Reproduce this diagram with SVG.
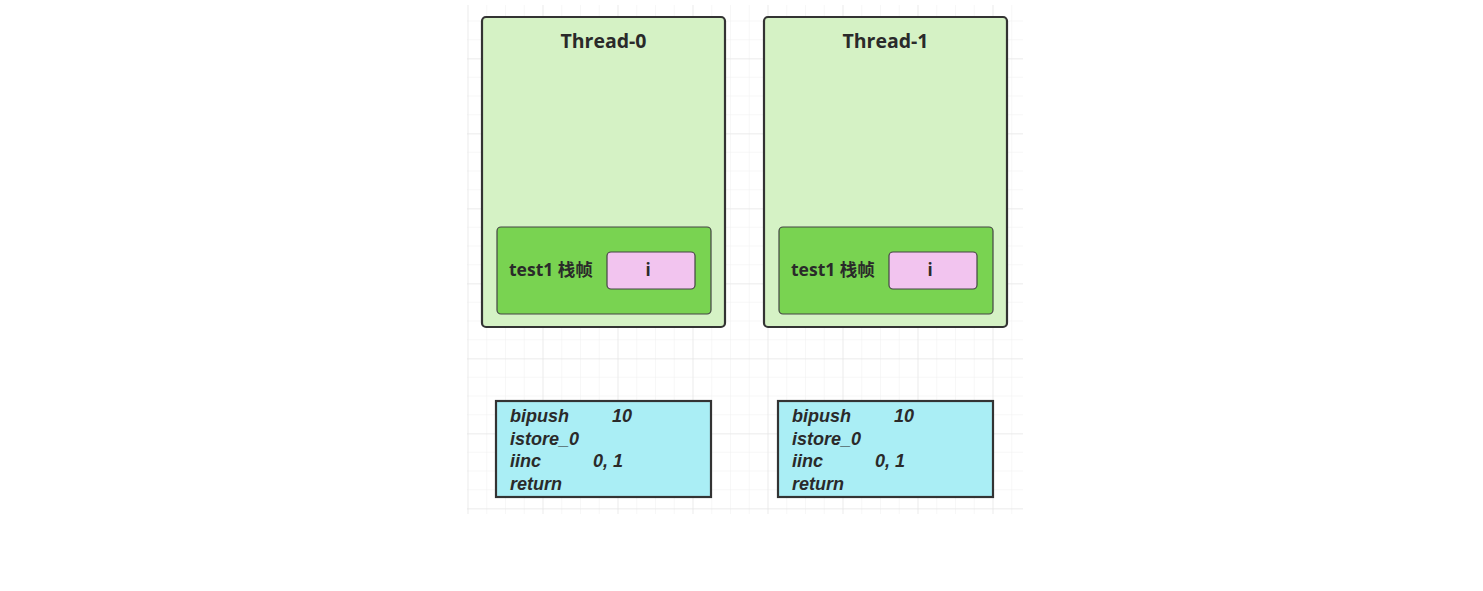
<svg xmlns="http://www.w3.org/2000/svg" width="1483" height="591" viewBox="0 0 1483 591">
  <defs>
    <pattern id="minor" x="467.5" y="1.75" width="18.75" height="18.75" patternUnits="userSpaceOnUse">
      <path d="M0 0H18.75M0 0V18.75" fill="none" stroke="#f0f0f0" stroke-width="1"/>
    </pattern>
    <pattern id="major" x="467.5" y="-16.5" width="75" height="75" patternUnits="userSpaceOnUse">
      <path d="M0 0H75M0 0V75" fill="none" stroke="#e2e2e2" stroke-width="1"/>
    </pattern>
  </defs>
  <style>
    .thread { fill: #d5f2c5; stroke: #333; stroke-width: 2.2; }
    .frame { fill: #79d351; stroke: #444; stroke-width: 1.2; }
    .slot { fill: #f2c4ef; stroke: #444; stroke-width: 1.2; }
    .code { fill: #aaeef5; stroke: #333; stroke-width: 2.2; }
    .title { font-family: "Open Sans", "Noto Sans", sans-serif; font-weight: bold; font-size: 19.5px; fill: #2a2a2a; text-anchor: middle; }
    .label { font-family: "Open Sans", "Noto Sans", "Noto Sans CJK SC", sans-serif; font-weight: bold; font-size: 17.5px; fill: #2a2a2a; }
    .var { font-family: "Open Sans", "Noto Sans", sans-serif; font-weight: bold; font-size: 17px; fill: #2a2a2a; text-anchor: middle; }
    .op { font-family: "Liberation Sans", Arial, sans-serif; font-weight: bold; font-style: italic; font-size: 18px; fill: #2a2a2a; }
  </style>
  <rect width="1483" height="591" fill="#ffffff"/>
  <!-- background grid -->
  <rect x="467" y="5" width="556" height="509" fill="url(#minor)"/>
  <rect x="467" y="5" width="556" height="509" fill="url(#major)"/>

  <g id="thread-0">
    <rect class="thread" x="482" y="17" width="243" height="310" rx="4"/>
    <text class="title" x="603.5" y="48">Thread-0</text>
  </g>
  <g id="frame-0">
    <rect class="frame" x="497" y="227" width="214" height="87" rx="4"/>
    <text class="label" x="509" y="276">test1 栈帧</text>
  </g>
  <g id="var-i-0">
    <rect class="slot" x="607" y="252" width="88" height="37" rx="4"/>
    <text class="var" x="648" y="276">i</text>
  </g>

  <g id="thread-1">
    <rect class="thread" x="764" y="17" width="243" height="310" rx="4"/>
    <text class="title" x="885.5" y="48">Thread-1</text>
  </g>
  <g id="frame-1">
    <rect class="frame" x="779" y="227" width="214" height="87" rx="4"/>
    <text class="label" x="791" y="276">test1 栈帧</text>
  </g>
  <g id="var-i-1">
    <rect class="slot" x="889" y="252" width="88" height="37" rx="4"/>
    <text class="var" x="930" y="276">i</text>
  </g>

  <g id="code-0">
    <rect class="code" x="496" y="401" width="215" height="96"/>
    <text class="op" x="510" y="422">bipush</text><text class="op" x="612" y="422">10</text>
    <text class="op" x="510" y="444.5">istore_0</text>
    <text class="op" x="510" y="467">iinc</text><text class="op" x="593" y="467">0, 1</text>
    <text class="op" x="510" y="489.5">return</text>
  </g>
  <g id="code-1">
    <rect class="code" x="778" y="401" width="215" height="96"/>
    <text class="op" x="792" y="422">bipush</text><text class="op" x="894" y="422">10</text>
    <text class="op" x="792" y="444.5">istore_0</text>
    <text class="op" x="792" y="467">iinc</text><text class="op" x="875" y="467">0, 1</text>
    <text class="op" x="792" y="489.5">return</text>
  </g>

  <g id="connectors"/>
</svg>
